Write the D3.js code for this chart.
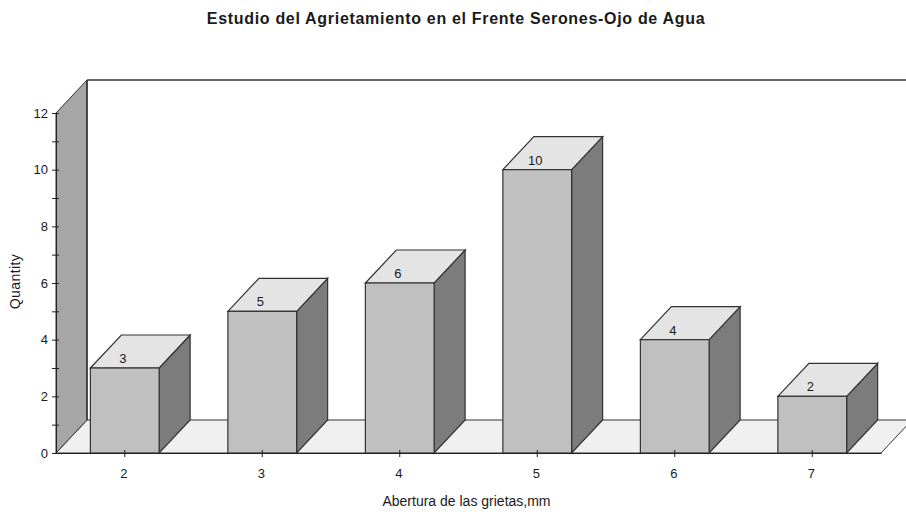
<!DOCTYPE html>
<html>
<head>
<meta charset="utf-8">
<script src="https://cdn.jsdelivr.net/npm/d3@7"></script>
<style>
  html, body { margin: 0; padding: 0; background: #fff; }
  svg { display: block; }
  text { font-family: "Liberation Sans", Arial, sans-serif; fill: #1a1a1a; }
</style>
</head>
<body>
<div id="container"></div>
<script>
/* DATA */
const categories = ["2", "3", "4", "5", "6", "7"];
const values = [3, 5, 6, 10, 4, 2];
const yTicks = [0, 1, 2, 3, 4, 5, 6, 7, 8, 9, 10, 11, 12];

const titleText = "Estudio del Agrietamiento en el Frente Serones-Ojo de Agua";
const xLabel = "Abertura de las grietas,mm";
const yLabel = "Quantity";

/* CONSTANTS */
const width = 906,
  height = 516,
  margin = { top: 113, bottom: 63, left: 56, right: 25 },
  depthX = 31,
  depthY = 33,
  line = "#333";

const svg = d3.select("#container")
  .append("svg")
  .attr("width", width)
  .attr("height", height);

// SCALES
const yScale = d3.scaleLinear()
  .domain([0, 12])
  .range([height - margin.bottom, margin.top]);

const xScale = d3.scaleBand()
  .domain(categories)
  .range([margin.left, width - margin.right])
  .paddingInner(0.5)
  .paddingOuter(0.25);

const y0 = yScale(0), y12 = yScale(12);
const x0 = margin.left, x1 = width - margin.right;
const poly = pts => "M" + pts.map(p => p.join(",")).join("L") + "Z";

// FLOOR AND WALLS
svg.append("path")
  .attr("d", poly([[x0, y0], [x1, y0], [x1 + depthX, y0 - depthY], [x0 + depthX, y0 - depthY]]))
  .attr("fill", "#f0f0f0")
  .attr("stroke", line);

svg.append("path")
  .attr("d", poly([[x0, y0], [x0 + depthX, y0 - depthY], [x0 + depthX, y12 - depthY], [x0, y12]]))
  .attr("fill", "#a6a6a6")
  .attr("stroke", line);

svg.append("line")
  .attr("x1", x0 + depthX).attr("x2", width)
  .attr("y1", y12 - depthY).attr("y2", y12 - depthY)
  .attr("stroke", line)
  .attr("stroke-width", 1.5);

svg.append("line")
  .attr("x1", x0 + depthX).attr("x2", x0 + depthX)
  .attr("y1", y12 - depthY).attr("y2", y0 - depthY)
  .attr("stroke", line)
  .attr("stroke-width", 1.5);

// BARS
const bars = svg.selectAll(".bar")
  .data(values)
  .join("g")
  .attr("class", "bar");

const bx = (d, i) => xScale(categories[i]);
const bw = xScale.bandwidth();

bars.append("path")
  .attr("d", (d, i) => {
    const x = bx(d, i) + bw, y = yScale(d);
    return poly([[x, y], [x + depthX, y - depthY], [x + depthX, y0 - depthY], [x, y0]]);
  })
  .attr("fill", "#7c7c7c")
  .attr("stroke", line)
  .attr("stroke-width", 1.2);

bars.append("path")
  .attr("d", (d, i) => {
    const x = bx(d, i), y = yScale(d);
    return poly([[x, y], [x + depthX, y - depthY], [x + bw + depthX, y - depthY], [x + bw, y]]);
  })
  .attr("fill", "#e4e4e4")
  .attr("stroke", line)
  .attr("stroke-width", 1.2);

bars.append("rect")
  .attr("x", bx)
  .attr("y", d => yScale(d))
  .attr("width", bw)
  .attr("height", d => y0 - yScale(d))
  .attr("fill", "#c0c0c0")
  .attr("stroke", line)
  .attr("stroke-width", 1.2);

bars.append("text")
  .attr("x", (d, i) => bx(d, i) + bw / 2 - 2)
  .attr("y", d => yScale(d) - 5)
  .attr("text-anchor", "middle")
  .attr("font-size", 13)
  .text(d => d);

// AXES
const yAxis = d3.axisLeft(yScale)
  .tickValues(yTicks)
  .tickSizeInner(3)
  .tickSizeOuter(0)
  .tickPadding(5)
  .tickFormat(d => d % 2 === 0 ? d : "");

const gy = svg.append("g")
  .attr("transform", `translate(${x0},0)`)
  .call(yAxis);
gy.selectAll(".tick line").attr("x2", -4).attr("x1", 3).attr("stroke", "#222");
gy.select(".domain").attr("stroke", "#222");
gy.selectAll("text").attr("font-size", 13).attr("font-family", null).style("fill", "#1a1a1a");

const xAxis = d3.axisBottom(xScale)
  .tickSizeInner(4)
  .tickSizeOuter(0)
  .tickPadding(12);

const gx = svg.append("g")
  .attr("transform", `translate(0,${y0})`)
  .call(xAxis);
gx.selectAll(".tick line").attr("y1", -3).attr("y2", 4).attr("stroke", "#222");
gx.select(".domain").attr("stroke", "#222");
gx.selectAll("text").attr("font-size", 13).attr("font-family", null).attr("dx", -1).style("fill", "#1a1a1a");

// TITLES
svg.append("text")
  .attr("x", 456)
  .attr("y", 23.5)
  .attr("text-anchor", "middle")
  .attr("font-size", 16)
  .attr("font-weight", "bold")
  .attr("letter-spacing", 0.69)
  .text(titleText);

svg.append("text")
  .attr("x", 466.5)
  .attr("y", 506)
  .attr("text-anchor", "middle")
  .attr("font-size", 14)
  .text(xLabel);

svg.append("text")
  .attr("x", -281.5)
  .attr("y", 20)
  .attr("transform", "rotate(-90)")
  .attr("text-anchor", "middle")
  .attr("font-size", 14)
  .attr("letter-spacing", 0.4)
  .text(yLabel);
</script>
</body>
</html>
